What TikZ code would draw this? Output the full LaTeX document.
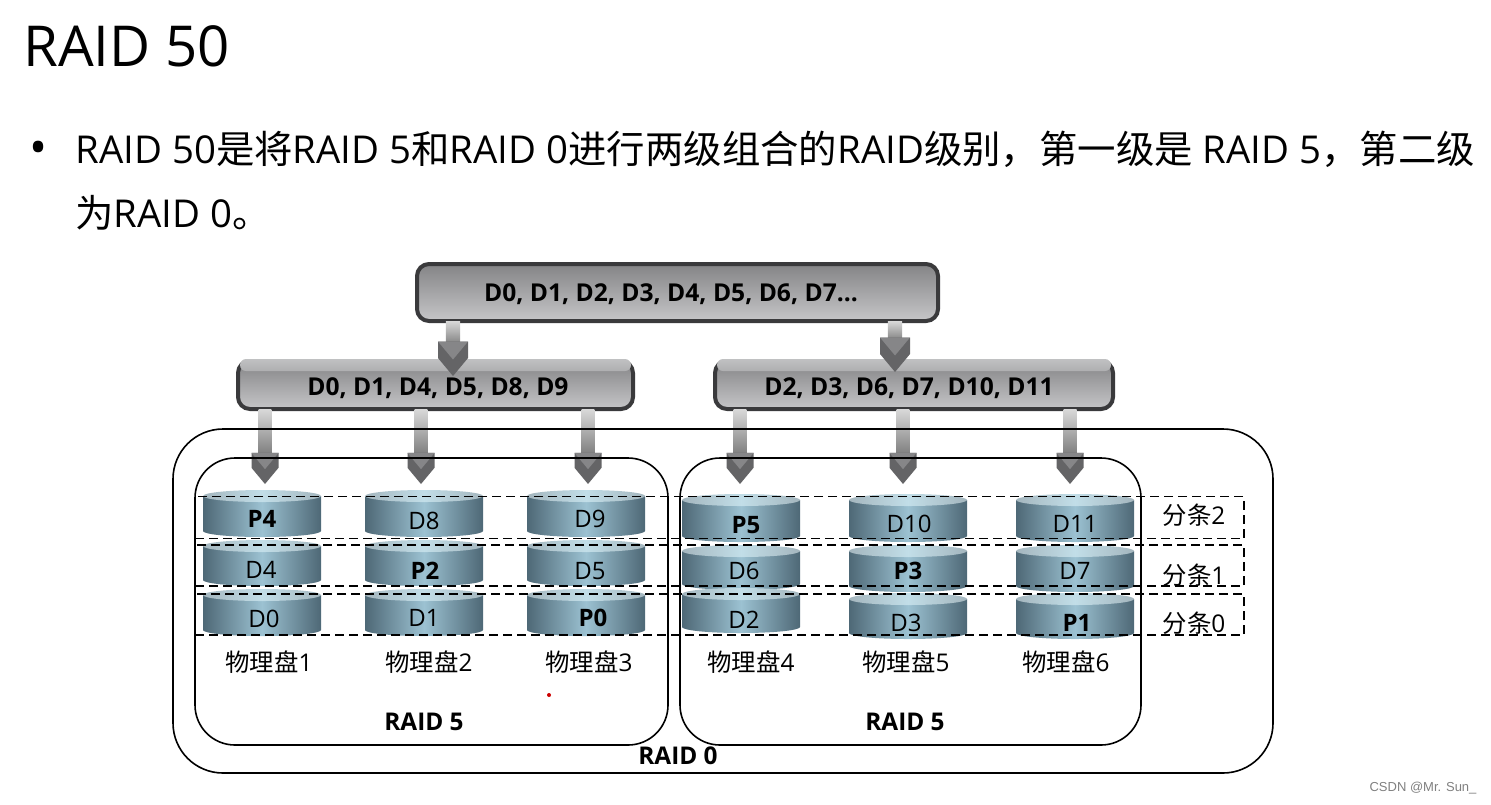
\documentclass[tikz,border=0pt]{standalone}
\usepackage{fontspec}
\usepackage{xcolor}
\setmainfont{Open Sans}
\newfontfamily\cjk{Noto Sans CJK SC}
\newfontfamily\markfont{Liberation Sans}
\usetikzlibrary{positioning}
\definecolor{boxedge}{RGB}{58,58,60}
\definecolor{boxtop}{RGB}{132,132,134}
\definecolor{boxbottom}{RGB}{198,198,200}
\definecolor{boxshine}{RGB}{192,193,194}
\definecolor{headdark}{RGB}{100,100,102}
\definecolor{headlight}{RGB}{134,134,136}
\definecolor{diskdark}{RGB}{78,104,118}
\definecolor{diskmid}{RGB}{156,194,210}
\definecolor{lidedge}{RGB}{164,182,190}
\definecolor{lidmid}{RGB}{194,222,232}

\tikzset{
    greybox/.style={
        draw=boxedge,
        line width=2pt,
        rounded corners=6pt,
        top color=boxtop,
        bottom color=boxbottom,
        outer sep=0pt
    },
    boxlabel/.style={font=\fontsize{12.3}{14}\selectfont\bfseries, inner sep=0pt},
    raidbox/.style={
        draw=black,
        line width=0.8pt,
        outer sep=0pt
    },
    stripebox/.style={
        draw=black,
        dash pattern=on 4.5pt off 2.5pt,
        line width=0.9pt,
        minimum width=524.5pt,
        outer sep=0pt
    },
    disklabel/.style={font=\fontsize{12}{14}\selectfont, inner sep=0pt},
    plainlabel/.style={font=\fontsize{12.2}{14}\selectfont, inner sep=0pt},
    boldlabel/.style={font=\fontsize{12.2}{14}\selectfont\bfseries, inner sep=0pt}
}

\newcommand{\zh}[1]{{\cjk #1}}

% source node, tip coordinate, half width of the head in pt
\newcommand{\flowarrow}[3]{
    \coordinate (from) at (#1.south -| #2);
    \begin{scope}[shift={(#2)}, x=#3pt, y=#3pt]
        \shade[top color=gray!30, bottom color=gray!95!black] (from) ++(-0.48,0) rectangle (0.48,2);
        \fill[headdark] (-1,2.3) -- (-1,1.2) -- (0,0) -- (1,1.2) -- (1,2.3) -- cycle;
        \fill[headlight] (-1,2.3) -- (0,1.1) -- (1,2.3) -- cycle;
    \end{scope}
}

\begin{document}
\begin{tikzpicture}[x=0.5pt, y=-0.5pt]
    \useasboundingbox (0,0) rectangle (1491,804);

    \node[anchor=base west, inner sep=0pt, font=\fontsize{28.2}{34}\selectfont] (title) at (23,66) {RAID 50};
    \node[inner sep=0pt, font=\fontsize{24}{24}\selectfont] (bullet) at (39,153) {•};
    \node[anchor=base west, inner sep=0pt, font=\fontsize{19.2}{24}\selectfont] (lineone) at (75,163) {RAID 50\zh{是将}RAID 5\zh{和}RAID 0\zh{进行两级组合的}RAID\zh{级别，第一级是} RAID 5\zh{，第二级}};
    \node[anchor=base west, inner sep=0pt, font=\fontsize{19.2}{24}\selectfont] (linetwo) at (75,227) {\zh{为}RAID 0\zh{。}};

    % disks: name, centre, top, bottom, label x, label y, label
    \foreach \name/\x/\ytop/\ybot/\lx/\ly/\txt in {
        dfour/262/490/537/262/519/{\textbf{P4}},
        dfive/262/540/586/261/570/D4,
        dsix/262/589/636/264/619/D0,
        deight/424/490/537/424/521/D8,
        dnine/424/540/586/425/571/{\textbf{P2}},
        dten/424/589/636/424/618/D1,
        dtwelve/586/490/537/590/519/D9,
        dthirteen/586/540/586/590/571/D5,
        dfourteen/586/589/636/593/618/{\textbf{P0}},
        efour/741/494/542/746/525/{\textbf{P5}},
        efive/741/545/590/744/571/D6,
        esix/741/588/633/744/620/D2,
        eeight/908/494/542/909/524/D10,
        enine/908/545/592/908/571/{\textbf{P3}},
        eten/908/593/639/906/623/D3,
        etwelve/1075/494/542/1075/524/D11,
        ethirteen/1075/545/592/1075/571/D7,
        efourteen/1075/593/639/1077/623/{\textbf{P1}}%
    }{
        \shade[left color=diskdark, right color=diskdark, middle color=diskmid]
            (\x-59,\ytop+6) -- (\x-59,\ybot-6) arc[start angle=180, end angle=360, x radius=29.5pt, y radius=3pt] -- (\x+59,\ytop+6) -- cycle;
        \shade[left color=lidedge, right color=lidedge, middle color=lidmid]
            (\x,\ytop+6) ellipse[x radius=29.5pt, y radius=3pt];
        \node[disklabel] (\name) at (\lx,\ly) {\txt};
    }

    \node[greybox, minimum width=260.5pt, minimum height=28.5pt] (allblocks) at (677.5,292.5) {};
    \node[greybox, minimum width=197.5pt, minimum height=24pt] (leftblocks) at (435.5,385) {};
    \node[greybox, minimum width=199pt, minimum height=24pt] (rightblocks) at (914,385) {};

    \shade[top color=boxshine, bottom color=boxshine!70!boxtop, rounded corners=3pt] ([xshift=1pt,yshift=1pt]leftblocks.north west) rectangle ([xshift=-1pt,yshift=-5pt]leftblocks.north east);
    \shade[top color=boxshine, bottom color=boxshine!70!boxtop, rounded corners=3pt] ([xshift=1pt,yshift=1pt]rightblocks.north west) rectangle ([xshift=-1pt,yshift=-5pt]rightblocks.north east);

    \node[boxlabel] (alltext) at (671,294) {D0, D1, D2, D3, D4, D5, D6, D7...};
    \node[boxlabel] (lefttext) at (438,388) {D0, D1, D4, D5, D8, D9};
    \node[boxlabel] (righttext) at (909,388) {D2, D3, D6, D7, D10, D11};

    \coordinate (tipa) at (453,376);
    \coordinate (tipb) at (895,372);
    \flowarrow{allblocks}{tipa}{7.5}
    \flowarrow{allblocks}{tipb}{7.5}

    \foreach \tipx/\tipname/\source in {265/tipc/leftblocks, 421/tipd/leftblocks, 588/tipe/leftblocks, 740/tipf/rightblocks, 903/tipg/rightblocks, 1070/tiph/rightblocks}{
        \coordinate (\tipname) at (\tipx,484);
        \flowarrow{\source}{\tipname}{6.75}
    }

    \node[raidbox, rounded corners=25pt, minimum width=550pt, minimum height=172pt] (raidzero) at (723,601) {};
    \node[raidbox, rounded corners=20pt, minimum width=236.5pt, minimum height=143.5pt] (raidleft) at (431.5,601.5) {};
    \node[raidbox, rounded corners=20pt, minimum width=230.5pt, minimum height=143.5pt] (raidright) at (910.5,601.5) {};

    \node[stripebox, minimum height=21pt] (stripetwo) at (719.5,517.5) {};
    \node[stripebox, minimum height=20.5pt] (stripeone) at (719.5,565.5) {};
    \node[stripebox, minimum height=20.5pt] (stripezero) at (719.5,614.5) {};

    \node[plainlabel] (stripelabeltwo) at (1194,515) {\zh{分条}2};
    \node[plainlabel] (stripelabelone) at (1194,575) {\zh{分条}1};
    \node[plainlabel] (stripelabelzero) at (1194,623) {\zh{分条}0};

    \foreach \x/\n in {269/1, 429/2, 589/3, 751/4, 906/5, 1066/6}{
        \node[plainlabel] (disk\n) at (\x,662) {\zh{物理盘}\n};
    }

    \node[boldlabel] (raidfiveleft) at (424,722) {RAID 5};
    \node[boldlabel] (raidfiveright) at (905,722) {RAID 5};
    \node[boldlabel] (raidzerolabel) at (678,756) {RAID 0};

    \fill[red!80!black] (549,695) circle (1pt);
    \node[inner sep=0pt, text=gray, font=\markfont\fontsize{6.5}{8}\selectfont] (watermark) at (1423,788) {CSDN @Mr. Sun\_};
\end{tikzpicture}
\end{document}
